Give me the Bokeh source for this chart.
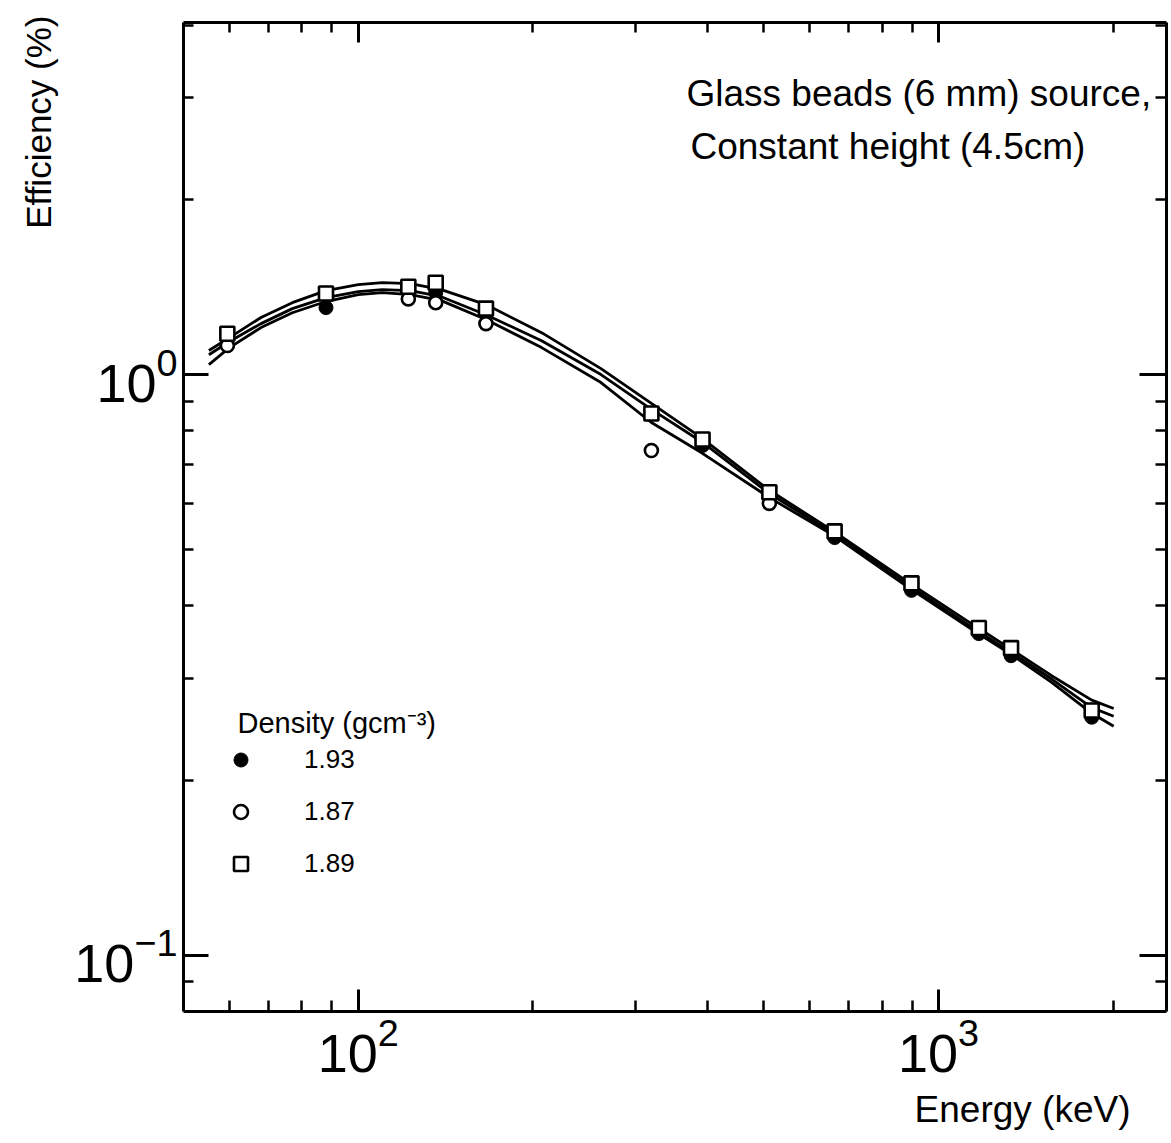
from bokeh.plotting import figure
from bokeh.models import (LogAxis, FixedTicker, Label, Legend, LegendItem,
                          CustomJSTickFormatter, LogTickFormatter, Title)
from bokeh.embed import file_html
from bokeh.resources import INLINE

# ---------------- data ----------------
energy = [59.5, 88, 122, 136, 166, 320, 392, 511, 662, 898, 1173, 1333, 1836]
eff_193 = [1.122, 1.304, 1.417, 1.384, 1.224, 0.857, 0.755, 0.627, 0.524, 0.425, 0.358, 0.328, 0.257]
eff_187 = [1.122, 1.379, 1.350, 1.330, 1.224, 0.740, 0.773, 0.600, 0.537, 0.437, 0.366, 0.338, 0.264]
eff_189 = [1.176, 1.379, 1.417, 1.439, 1.299, 0.857, 0.773, 0.627, 0.537, 0.437, 0.366, 0.338, 0.264]

fit_energy = [55.3, 60, 68, 77, 88, 100, 110, 123, 139, 166, 207, 262, 320, 390, 511, 660,
              893, 1170, 1325, 1566, 1836, 2003]
fit_upper = [1.100, 1.158, 1.254, 1.330, 1.395, 1.429, 1.440, 1.434, 1.401, 1.320, 1.181, 1.024,
             0.892, 0.779, 0.632, 0.537, 0.437, 0.366, 0.338, 0.303, 0.275, 0.266]
fit_middle = [1.082, 1.140, 1.224, 1.299, 1.357, 1.390, 1.401, 1.395, 1.362, 1.268, 1.144, 1.000,
              0.871, 0.767, 0.624, 0.532, 0.432, 0.361, 0.334, 0.299, 0.267, 0.258]
fit_lower = [1.040, 1.113, 1.205, 1.278, 1.336, 1.373, 1.384, 1.373, 1.341, 1.244, 1.113, 0.969,
             0.827, 0.734, 0.614, 0.528, 0.428, 0.358, 0.331, 0.295, 0.261, 0.248]

density_labels = ["1.93", "1.87", "1.89"]

x_major = [100, 1000]
x_minor = [60, 70, 80, 90, 200, 300, 400, 500, 600, 700, 800, 900, 2000]
y_major = [0.1, 1]
y_minor = [0.09, 0.2, 0.3, 0.4, 0.5, 0.6, 0.7, 0.8, 0.9, 2, 3, 4]

FONT = "Liberation Sans"

p = figure(width=1170, height=1141, x_axis_type="log", y_axis_type="log",
           x_range=(50, 2470), y_range=(0.08, 4.04),
           output_backend="svg", toolbar_location=None,
           min_border_left=183, min_border_right=4, min_border_top=22, min_border_bottom=130)
p.grid.visible = False
p.outline_line_color = None
p.background_fill_color = "white"
p.border_fill_color = "white"

empty_fmt = CustomJSTickFormatter(code="return ''")


def style_axis(ax, major, minor, maj_len, min_len, show_labels):
    ax.ticker = FixedTicker(ticks=major, minor_ticks=minor)
    if show_labels:
        ax.formatter = LogTickFormatter()
        ax.major_label_text_font = FONT
        ax.major_label_text_font_size = "54px"
        ax.major_label_text_color = "black"
        ax.major_label_standoff = 6
    else:
        ax.formatter = empty_fmt
        ax.major_label_text_font_size = "0px"
        ax.major_label_standoff = 0
    ax.major_tick_in = maj_len
    ax.major_tick_out = 0
    ax.minor_tick_in = min_len
    ax.minor_tick_out = 0
    ax.axis_line_width = 3
    ax.axis_line_color = "black"
    ax.major_tick_line_width = 3
    ax.minor_tick_line_width = 2.5
    ax.major_tick_line_color = "black"
    ax.minor_tick_line_color = "black"


style_axis(p.xaxis[0], x_major, x_minor, 22, 11, True)
style_axis(p.yaxis[0], y_major, y_minor, 25, 10, True)
top = LogAxis()
style_axis(top, x_major, x_minor, 20, 10, False)
p.add_layout(top, "above")
right = LogAxis()
style_axis(right, y_major, y_minor, 27, 11, False)
p.add_layout(right, "right")

# axis titles placed like the reference (x title at right end, y title at top)
p.add_layout(Title(text="Energy (keV)", align="right", offset=36, standoff=24,
                   text_font=FONT, text_font_size="37px", text_font_style="normal",
                   text_color="black"), "below")
p.add_layout(Title(text="Efficiency (%)", align="right", offset=-7, standoff=27,
                   text_font=FONT, text_font_size="35px", text_font_style="normal",
                   text_color="black"), "left")

# fitted curves
for ys in (fit_upper, fit_middle, fit_lower):
    p.line(fit_energy, ys, line_color="black", line_width=2.8)

r_filled = p.scatter(energy, eff_193, marker="circle", size=14, fill_color="black",
                     line_color="black", line_width=1)
r_open = p.scatter(energy, eff_187, marker="circle", size=13, fill_color="white",
                   line_color="black", line_width=2.6)
r_square = p.scatter(energy, eff_189, marker="square", size=14, fill_color="white",
                     line_color="black", line_width=2.6)

legend = Legend(items=[LegendItem(label=density_labels[0], renderers=[r_filled]),
                       LegendItem(label=density_labels[1], renderers=[r_open]),
                       LegendItem(label=density_labels[2], renderers=[r_square])],
                location=(40, 130), glyph_width=35, glyph_height=35, label_height=35,
                label_standoff=46, spacing=17, padding=0, margin=0,
                border_line_alpha=0, background_fill_alpha=0,
                label_text_font=FONT, label_text_font_size="26px", label_text_color="black")
p.add_layout(legend)


# annotation positions given in reference pixels -> data coordinates
def ref_x(px):
    return 10 ** (2 + (px - 357.7) / 580.4)


def ref_y(py):
    return 10 ** ((374 - py) / 580.6)


def lab(px, py, text, size, align="left"):
    p.add_layout(Label(x=ref_x(px), y=ref_y(py), text=text, text_font=FONT,
                       text_font_size=f"{size}px", text_align=align,
                       text_baseline="alphabetic", text_color="black"))


lab(686, 93, "Glass beads (6 mm) source,", 37)
lab(690, 146, "Constant height (4.5cm)", 37)
lab(237, 722, "Density (gcm\u207b\u00b3)", 29)

open("out.html", "w").write(file_html(p, INLINE))
